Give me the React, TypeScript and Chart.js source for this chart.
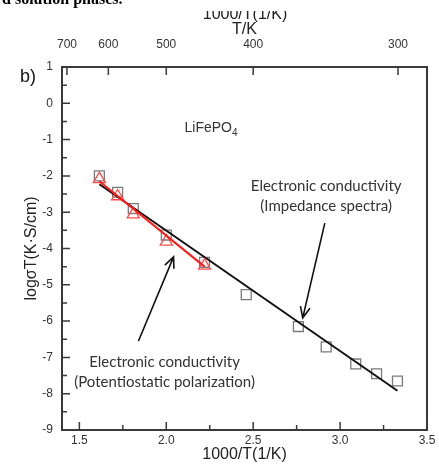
import React, { useEffect, useRef } from "react";
import { Chart, registerables } from "chart.js";
Chart.register(...registerables);

// ---- data ----
const squareX = [1.615, 1.72, 1.81, 2.0, 2.22, 2.46, 2.76, 2.92, 3.09, 3.21, 3.33];
const squareY = [-2.0, -2.45, -2.9, -3.63, -4.38, -5.27, -6.15, -6.71, -7.18, -7.45, -7.65];
const triX = [1.615, 1.72, 1.81, 2.0, 2.22];
const triY = [-2.09, -2.56, -3.06, -3.81, -4.47];
const blackFitX = [1.615, 3.33];
const blackFitY = [-2.23, -7.92];
const redFitX = [1.615, 2.22];
const redFitY = [-2.15, -4.5];
const bottomTicks = [1.5, 2.0, 2.5, 3.0, 3.5];
const topTempTicks = [700, 600, 500, 400, 300];
const xMin = 1.4, xMax = 3.5, yMin = -9, yMax = 1;

const pts = (xs: number[], ys: number[]) => xs.map((x, i) => ({ x, y: ys[i] }));

const AX_FONT = "'Liberation Sans', Arial, sans-serif";
const NOTE_FONT = "Lato, 'Open Sans', sans-serif";

const decor = {
  id: "decor",
  afterDraw(chart: any) {
    const { ctx, chartArea: a, scales } = chart;
    const sx = scales.x, sy = scales.y;
    const X = (v: number) => sx.getPixelForValue(v);
    const Y = (v: number) => sy.getPixelForValue(v);
    ctx.save();
    // frame
    ctx.strokeStyle = "#3a3a3a";
    ctx.lineWidth = 2;
    ctx.strokeRect(a.left, a.top, a.right - a.left, a.bottom - a.top);
    ctx.lineWidth = 1.5;
    ctx.beginPath();
    for (let v = yMin; v <= yMax + 1e-9; v += 0.5) {
      const len = Math.abs(v - Math.round(v)) < 1e-6 ? 8 : 5;
      ctx.moveTo(a.left, Y(v));
      ctx.lineTo(a.left + len, Y(v));
    }
    for (let v = 1.5; v <= xMax + 1e-9; v += 0.25) {
      const len = Math.abs(v * 2 - Math.round(v * 2)) < 1e-6 ? 8 : 5;
      ctx.moveTo(X(v), a.bottom);
      ctx.lineTo(X(v), a.bottom - len);
    }
    topTempTicks.forEach((t) => {
      ctx.moveTo(X(1000 / t), a.top);
      ctx.lineTo(X(1000 / t), a.top + 8);
    });
    ctx.stroke();

    // arrows
    const arrow = (x1: number, y1: number, x2: number, y2: number) => {
      const p1 = [X(x1), Y(y1)], p2 = [X(x2), Y(y2)];
      const ang = Math.atan2(p2[1] - p1[1], p2[0] - p1[0]);
      ctx.strokeStyle = "#111";
      ctx.lineWidth = 1.6;
      ctx.beginPath();
      ctx.moveTo(p1[0], p1[1]);
      ctx.lineTo(p2[0], p2[1]);
      const L = 12, w = 0.42;
      ctx.moveTo(p2[0] - L * Math.cos(ang - w), p2[1] - L * Math.sin(ang - w));
      ctx.lineTo(p2[0], p2[1]);
      ctx.lineTo(p2[0] - L * Math.cos(ang + w), p2[1] - L * Math.sin(ang + w));
      ctx.stroke();
    };
    arrow(2.912, -3.3, 2.785, -5.91);
    arrow(1.84, -6.55, 2.042, -4.23);

    // notes
    ctx.fillStyle = "#333";
    ctx.font = `15px ${NOTE_FONT}`;
    ctx.textAlign = "center";
    ctx.textBaseline = "middle";
    ctx.fillText("Electronic conductivity", X(2.92), Y(-2.29));
    ctx.fillText("(Impedance spectra)", X(2.92), Y(-2.84));
    ctx.fillText("Electronic conductivity", X(1.99), Y(-7.12));
    ctx.fillText("(Potentiostatic polarization)", X(1.99), Y(-7.67));

    // LiFePO4
    ctx.textAlign = "left";
    ctx.font = `14px ${AX_FONT}`;
    const lx = X(2.105), ly = Y(-0.69);
    ctx.fillText("LiFePO", lx, ly);
    const w1 = ctx.measureText("LiFePO").width;
    ctx.font = `10px ${AX_FONT}`;
    ctx.fillText("4", lx + w1, ly + 5);

    // b)
    ctx.fillStyle = "#111";
    ctx.font = `18px ${AX_FONT}`;
    ctx.textAlign = "center";
    ctx.fillText("b)", 28, 77);

    // cut-off texts at top
    ctx.save();
    ctx.beginPath();
    ctx.rect(0, 11, chart.width, 30);
    ctx.clip();
    ctx.fillStyle = "#222";
    ctx.font = `16px ${AX_FONT}`;
    ctx.textBaseline = "alphabetic";
    ctx.fillText("1000/T(1/K)", 245, 19);
    ctx.restore();
    ctx.fillStyle = "#000";
    ctx.font = `bold 16px 'Liberation Serif', serif`;
    ctx.textAlign = "left";
    ctx.textBaseline = "alphabetic";
    ctx.fillText("d solution phases.", 2, 4);
    ctx.restore();
  },
};

export default function App() {
  const ref = useRef<HTMLCanvasElement>(null);
  useEffect(() => {
    document.body.style.margin = "0";
    const chart = new Chart(ref.current!, {
      type: "scatter",
      data: {
        datasets: [
          {
            label: "red fit",
            data: pts(redFitX, redFitY),
            showLine: true,
            borderColor: "#ff1a1a",
            borderWidth: 2,
            pointRadius: 0,
          },
          {
            label: "polarization",
            data: pts(triX, triY),
            pointStyle: "triangle",
            pointRadius: 7,
            borderColor: "#ff4d4d",
            backgroundColor: "rgba(0,0,0,0)",
            borderWidth: 1.3,
          },
          {
            label: "black fit",
            data: pts(blackFitX, blackFitY),
            showLine: true,
            borderColor: "#111",
            borderWidth: 2,
            pointRadius: 0,
          },
          {
            label: "impedance",
            data: pts(squareX, squareY),
            pointStyle: "rect",
            pointRadius: 7,
            borderColor: "#7a7a7a",
            backgroundColor: "rgba(0,0,0,0)",
            borderWidth: 1.3,
          },
        ],
      },
      options: {
        animation: false,
        responsive: false,
        devicePixelRatio: 1,
        layout: { padding: { left: 0, right: 12, top: 0, bottom: 0 } },
        plugins: { legend: { display: false }, tooltip: { enabled: false } },
        scales: {
          x: {
            type: "linear",
            position: "bottom",
            min: xMin,
            max: xMax,
            grid: { display: false, drawTicks: false },
            border: { display: false },
            afterBuildTicks: (s: any) => {
              s.ticks = bottomTicks.map((v) => ({ value: v }));
            },
            ticks: {
              padding: 3,
              autoSkip: false,
              maxRotation: 0,
              color: "#333",
              font: { family: AX_FONT, size: 12 },
              callback: (v: any) => Number(v).toFixed(1),
            },
            title: {
              display: true,
              text: "1000/T(1/K)",
              color: "#222",
              font: { family: AX_FONT, size: 16 },
              padding: { top: 0, bottom: 9 },
            },
            afterFit: (s: any) => {
              s.height = 43;
            },
          },
          x2: {
            type: "linear",
            position: "top",
            min: xMin,
            max: xMax,
            grid: { display: false, drawTicks: false },
            border: { display: false },
            afterBuildTicks: (s: any) => {
              s.ticks = topTempTicks.map((t) => ({ value: 1000 / t }));
            },
            ticks: {
              padding: 15,
              autoSkip: false,
              maxRotation: 0,
              color: "#333",
              font: { family: AX_FONT, size: 12 },
              callback: (v: any) => String(Math.round(1000 / Number(v))),
            },
            title: {
              display: true,
              text: "T/K",
              color: "#222",
              font: { family: AX_FONT, size: 16 },
              padding: { top: 20, bottom: 0 },
            },
            afterFit: (s: any) => {
              s.height = 67;
            },
          },
          y: {
            type: "linear",
            min: yMin,
            max: yMax,
            grid: { display: false, drawTicks: false },
            border: { display: false },
            ticks: {
              stepSize: 1,
              padding: 9,
              color: "#333",
              font: { family: AX_FONT, size: 12 },
              callback: (v: any) => String(v),
            },
            title: {
              display: true,
              text: "logσT(K·S/cm)",
              color: "#222",
              font: { family: AX_FONT, size: 16 },
              padding: { top: 22, bottom: 0 },
            },
            afterFit: (s: any) => {
              s.width = 62;
            },
          },
        },
      },
      plugins: [decor],
    } as any);
    return () => chart.destroy();
  }, []);
  return (
    <div style={{ width: 439, height: 473 }}>
      <canvas ref={ref} width={439} height={473} style={{ display: "block" }} />
    </div>
  );
}
